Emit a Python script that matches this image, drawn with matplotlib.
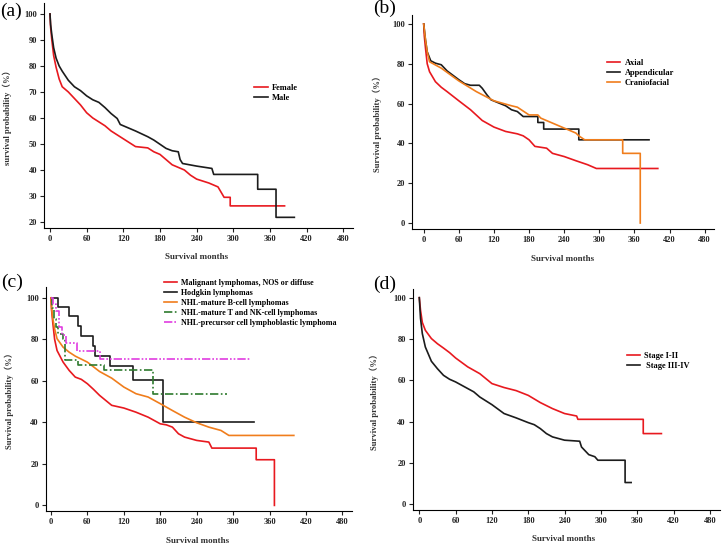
import numpy as np
import matplotlib.pyplot as plt

plt.rcParams['font.family'] = ['Liberation Serif', 'Noto Sans CJK SC']
plt.rcParams['font.weight'] = 'bold'

RED = '#e8191f'
BLACK = '#1c1c1c'
ORANGE = '#f07d1c'
GREEN = '#2e7a2e'
MAGENTA = '#e03ce0'

# ---- (a) sex ----  (repeated times = vertical drops)
female_t = [0, 1, 3, 6, 10, 15, 20, 30, 40, 50, 60, 70, 80, 90, 100, 110, 120, 130, 140, 160,
            170, 180, 190, 200, 210, 220, 230, 240, 260, 265, 275, 280, 285, 295, 295, 384]
female_s = [100, 95, 90, 84, 79.5, 75, 72, 70, 67.5, 65, 62, 60, 58.5, 57, 55, 53.5, 52, 50.5,
            49, 48.5, 47, 46, 44, 42, 41, 40, 38, 36.5, 35, 34.5, 33.5, 31.5, 29.5, 29.5, 26.2, 26.2]
male_t = [0, 1, 3, 6, 10, 15, 20, 30, 40, 50, 60, 70, 80, 90, 100, 110, 115, 140, 160, 170,
          190, 200, 210, 213, 217, 240, 265, 268, 340, 340, 370, 370, 400]
male_s = [100, 96, 92, 87, 83, 80, 78, 74.5, 72, 70.5, 68.5, 67, 66, 64, 61.7, 59.8, 57.5, 55,
          52.8, 51.5, 48.3, 47.4, 47, 44, 42.5, 41.5, 40.6, 38.3, 38.3, 32.6, 32.6, 21.8, 21.8]

# ---- (b) site ----
axial_t = [0, 1, 3, 6, 10, 20, 30, 40, 60, 80, 100, 120, 140, 160, 170, 180, 190, 210, 220,
           240, 260, 280, 295, 400]
axial_s = [100, 94, 88, 80, 76, 71, 68.2, 66, 61.4, 56.9, 51.5, 48.2, 46, 44.8, 43.8, 41.8,
           38.5, 37.6, 35, 33.4, 31.3, 29.3, 27.4, 27.4]
append_t = [0, 3, 6, 12, 20, 30, 40, 60, 70, 80, 95, 100, 108, 115, 140, 150, 160, 170, 195,
            195, 205, 205, 265, 265, 385]
append_s = [100, 92, 86, 81.5, 80.3, 79.5, 76.4, 72, 70, 69.2, 69.2, 67.7, 64.4, 61.9, 58.9,
            56.9, 56, 53.5, 53.5, 50.5, 50.5, 47.2, 47.2, 41.8, 41.8]
cranio_t = [0, 3, 6, 10, 30, 60, 90, 120, 150, 160, 180, 195, 200, 220, 240, 260, 265, 275,
            340, 340, 370, 370]
cranio_s = [100, 92, 86, 81, 77.8, 71.4, 66, 61.4, 58.9, 58.2, 54.3, 54.3, 52.7, 50.2, 47.7,
            45.2, 43.8, 41.8, 41.8, 35, 35, 0]

# ---- (c) histology ----
malig_t = [0, 1, 3, 6, 10, 20, 30, 40, 50, 60, 70, 80, 90, 100, 120, 140, 160, 180, 190, 200,
           210, 220, 240, 260, 265, 338, 338, 368, 368]
malig_s = [100, 94, 88, 80, 74.6, 69, 65, 61.8, 60.7, 58.6, 55.9, 53, 50.6, 48.2, 46.9, 44.9,
           42.5, 39.3, 38.8, 37.7, 34.5, 32.9, 31.3, 30.5, 27.6, 27.6, 22, 22, 0]
hodg_t = [0, 12, 30, 45, 50, 70, 72, 97, 135, 184, 335]
hodg_s = [100, 95.7, 91.2, 86.5, 81.7, 77, 72.2, 67.1, 60.3, 40.3, 40.3]
bcell_t = [0, 1, 3, 6, 10, 20, 30, 40, 60, 80, 100, 120, 140, 160, 180, 200, 220, 240, 260,
           280, 293, 400]
bcell_s = [100, 95, 90, 85, 80.3, 76.2, 73.8, 71.9, 69, 64.5, 61.3, 57, 53.8, 52.2, 49, 45.7,
           42.5, 39.8, 37.7, 36.1, 33.7, 33.7]
tnk_t = [0, 2, 5, 8, 12, 20, 23, 45, 88, 168, 290]
tnk_s = [100, 95, 90, 86, 82.7, 80.3, 69.8, 67.4, 65, 53.8, 53.8]
prec_t = [0, 3, 8, 14, 18, 25, 43, 80, 330]
prec_s = [100, 97, 93.4, 85.9, 81.9, 78.3, 74.3, 70.6, 70.6]

# ---- (d) stage ----
st12_t = [0, 2, 5, 10, 20, 30, 40, 50, 60, 80, 100, 120, 140, 160, 180, 200, 220, 240, 260,
          262, 370, 370, 400]
st12_s = [100, 94, 88, 84.2, 80.2, 77.7, 75.6, 73.4, 70.8, 66.5, 63.2, 58.4, 56.5, 55, 52.7,
          49.2, 46.3, 43.9, 42.7, 41.1, 41.1, 34.2, 34.2]
st34_t = [0, 2, 5, 10, 20, 30, 40, 50, 60, 80, 90, 100, 120, 140, 160, 180, 190, 200, 210,
          220, 240, 265, 268, 280, 290, 295, 340, 340, 350]
st34_s = [100, 90, 82.6, 76.1, 69.2, 65.6, 62.4, 60.5, 59.2, 56, 54.4, 51.9, 48.2, 43.9,
          41.8, 39.5, 38.5, 36.6, 34.2, 32.6, 31, 30.5, 27.7, 24, 23, 21.3, 21.3, 10.5, 10.5]

W, H = 724, 544
fig = plt.figure(figsize=(W / 100, H / 100), dpi=100)


def make_ax(left, right, top, bottom):
    return fig.add_axes([left / W, 1 - bottom / H, (right - left) / W, (bottom - top) / H])


def style(ax, xlim, ylim, yticks, ylabel):
    ax.set_xlim(*xlim)
    ax.set_ylim(*ylim)
    ax.set_xticks(np.arange(0, 481, 60))
    ax.set_yticks(yticks)
    for s in ['top', 'right']:
        ax.spines[s].set_visible(False)
    ax.tick_params(labelsize=6, length=3, width=0.8, pad=2, colors='#222222')
    for lab in ax.get_xticklabels() + ax.get_yticklabels():
        lab.set_fontweight('bold')
    ax.set_xlabel('Survival months', fontsize=6.5, fontweight='bold', color='#333333')
    ax.set_ylabel(ylabel, fontsize=6.2, fontweight='bold', color='#333333')


def km(ax, t, s, color, label, ls='-', steps=False):
    ax.plot(t, s, drawstyle='steps-post' if steps else 'default', color=color, lw=1.2,
            ls=ls, label=label)


def leg(ax, x, y, fs=6):
    ax.legend(loc='upper left', bbox_to_anchor=(x, y), frameon=False,
              handlelength=1.6, handletextpad=0.5, labelspacing=0.25, borderaxespad=0,
              prop={'weight': 'bold', 'size': fs})


# (a)
ax = make_ax(44, 353, 3, 228)
km(ax, female_t, female_s, RED, 'Female')
km(ax, male_t, male_s, BLACK, 'Male')
style(ax, (-9.8, 496), (17.7, 104.2), np.arange(20, 101, 10), 'survival probability（%）')
ax.yaxis.set_label_coords(-0.105, 0.5)
ax.xaxis.set_label_coords(0.495, -0.11)
leg(ax, 0.67, 0.655)

# (b)
ax = make_ax(412, 714, 15, 229)
km(ax, axial_t, axial_s, RED, 'Axial')
km(ax, append_t, append_s, BLACK, 'Appendicular')
km(ax, cranio_t, cranio_s, ORANGE, 'Craniofacial')
style(ax, (-20, 496), (-3, 104.5), np.arange(0, 101, 20), 'Survival probability（%）')
ax.yaxis.set_label_coords(-0.1, 0.5)
ax.xaxis.set_label_coords(0.5, -0.12)
leg(ax, 0.635, 0.81)

# (c)
ax = make_ax(45.7, 352, 287, 511)
km(ax, malig_t, malig_s, RED, 'Malignant lymphomas, NOS or diffuse')
km(ax, hodg_t, hodg_s, BLACK, 'Hodgkin lymphomas', steps=True)
km(ax, bcell_t, bcell_s, ORANGE, 'NHL-mature B-cell lymphomas')
km(ax, tnk_t, tnk_s, GREEN, 'NHL-mature T and NK-cell lymphomas',
   ls=(0, (5, 1.5, 1, 1.5)), steps=True)
km(ax, prec_t, prec_s, MAGENTA, 'NHL-precursor cell lymphoblastic lymphoma',
   ls=(0, (5, 1.2, 1, 1.2, 1, 1.2)), steps=True)
style(ax, (-8.7, 495.8), (-2.7, 105.2), np.arange(0, 101, 20), 'Survival probability（%）')
ax.yaxis.set_label_coords(-0.105, 0.5)
ax.xaxis.set_label_coords(0.495, -0.115)
leg(ax, 0.375, 1.05, fs=5.8)

# (d)
ax = make_ax(412.7, 720, 289, 510)
km(ax, st12_t, st12_s, RED, 'Stage I-II')
km(ax, st34_t, st34_s, BLACK, ' Stage III-IV')
style(ax, (-10.9, 496.8), (-2.8, 104.2), np.arange(0, 101, 20), 'Survival probability（%）')
ax.yaxis.set_label_coords(-0.11, 0.5)
ax.xaxis.set_label_coords(0.49, -0.115)
leg(ax, 0.685, 0.73)

# panel letters
for x, y, s in [(0, 3, '(a)'), (373, 0, '(b)'), (1, 274, '(c)'), (373, 276, '(d)')]:
    fig.text(x / W, 1 - y / H, s, fontsize=14, fontweight='normal', va='top', ha='left')

fig.savefig('out.png', dpi=100)
